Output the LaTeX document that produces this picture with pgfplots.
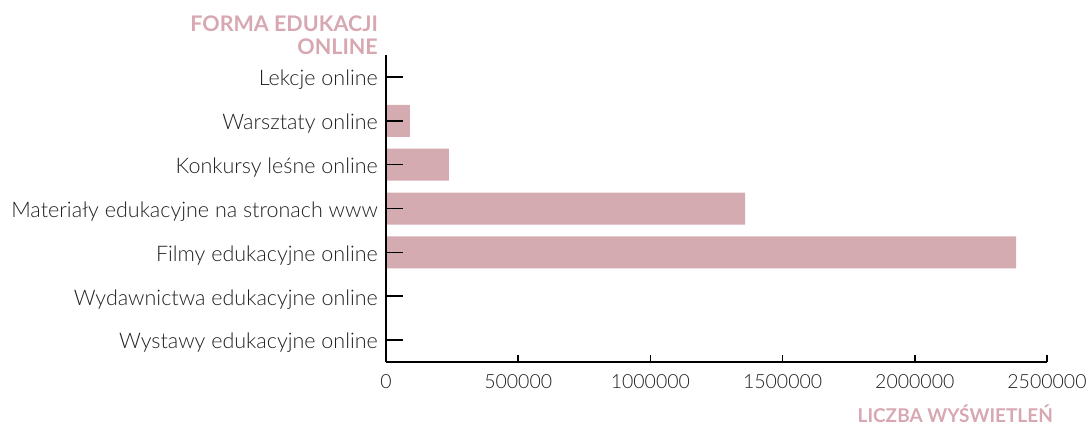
\documentclass[border=0pt]{standalone}
\usepackage{pgfplots}
\pgfplotsset{compat=1.18}
\usepackage{fontspec}
\setmainfont{Lato}[UprightFont=* Light, BoldFont=* Bold]
\definecolor{barc}{RGB}{213,171,178}
\definecolor{titc}{RGB}{216,168,178}
\definecolor{txt}{RGB}{33,33,33}
\begin{document}
\begin{tikzpicture}
\path[use as bounding box] (0,0) rectangle (1089pt,425pt);
\begin{axis}[
  at={(386pt,63pt)}, anchor=south west, scale only axis,
  width=661pt, height=307pt,
  xbar, bar width=32pt,
  xmin=0, xmax=2500000, ymin=-0.5, ymax=6.5, y dir=reverse,
  axis lines*=left, axis line style={-, line width=1.6pt, black},
  axis on top,
  tick align=inside,
  tick style={line width=1.6pt, black},
  x tick style={/pgfplots/major tick length=7pt},
  y tick style={/pgfplots/major tick length=17pt},
  scaled x ticks=false,
  xtick={0,500000,1000000,1500000,2000000,2500000},
  xticklabels={0,500000,1000000,1500000,2000000,2500000},
  ytick={0,1,2,3,4,5,6},
  yticklabels={Lekcje online, Warsztaty online, Konkursy leśne online, Materiały edukacyjne na stronach www, Filmy edukacyjne online, Wydawnictwa edukacyjne online, Wystawy edukacyjne online},
  yticklabel style={font=\fontsize{21.5}{25}\selectfont, text=txt, anchor=east, inner sep=0pt, xshift=-8pt, yshift=-3pt},
  xticklabel style={font=\fontsize{19.5}{23}\selectfont, text=txt, anchor=north, inner sep=0pt, yshift=-12pt},
  clip=false,
]
\addplot[draw=none, fill=barc] coordinates {
  (0,0) (90000,1) (238000,2) (1358000,3) (2383000,4) (0,5) (0,6)
};
\end{axis}
\node[anchor=base east, inner sep=0pt, text=titc, font=\bfseries\fontsize{21.5}{25}\selectfont] at (378pt,393pt) {FORMA EDUKACJI};
\node[anchor=base east, inner sep=0pt, text=titc, font=\bfseries\fontsize{21.5}{25}\selectfont] at (378pt,370pt) {ONLINE};
\node[anchor=base east, inner sep=0pt, text=titc, font=\bfseries\fontsize{19}{23}\selectfont] at (1053pt,2pt) {LICZBA WYŚWIETLEŃ};
\end{tikzpicture}
\end{document}
